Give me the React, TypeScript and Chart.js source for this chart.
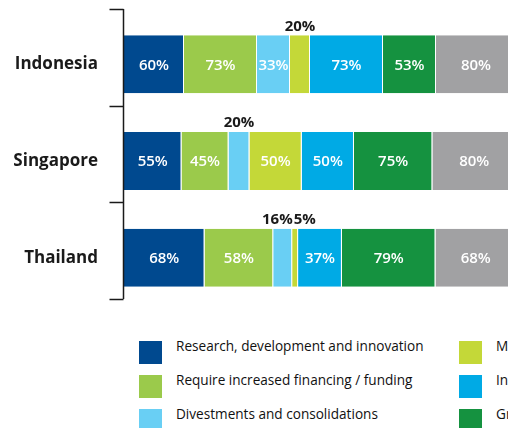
import React, { useEffect, useRef } from "react";
import { Chart, registerables } from "chart.js";

Chart.register(...registerables);

const categories = ["Indonesia", "Singapore", "Thailand"];
const seriesNames = [
  "Research, development and innovation",
  "Require increased financing / funding",
  "Divestments and consolidations",
  "Mergers and acquisitions",
  "International expansion",
  "Growth in new markets",
  "Other",
];
const research = [60, 55, 68];
const financing = [73, 45, 58];
const divestments = [33, 20, 16];
const mergers = [20, 50, 5];
const international = [73, 50, 37];
const growth = [53, 75, 79];
const other = [80, 80, 68];
const colors = ["#00498f", "#9bca4b", "#69cff4", "#c4d838", "#00aae5", "#159240", "#a1a1a3"];

const series = [research, financing, divestments, mergers, international, growth, other];

const totals = categories.map((_, i) => series.reduce((s, arr) => s + arr[i], 0));

const FONT = "'Open Sans', 'Noto Sans', sans-serif";

const bracketPlugin = {
  id: "bracket",
  afterDraw(chart: any) {
    const { ctx, chartArea } = chart;
    const n = categories.length;
    const band = (chartArea.bottom - chartArea.top) / n;
    const shift = -7;
    ctx.save();
    ctx.strokeStyle = "#1a1a1a";
    ctx.lineWidth = 1.5;
    const x = chartArea.left - 0.5;
    ctx.beginPath();
    ctx.moveTo(x, chartArea.top + shift);
    ctx.lineTo(x, chartArea.bottom + shift);
    for (let i = 0; i <= n; i++) {
      const yy = Math.round(chartArea.top + band * i + shift) + 0.5;
      ctx.moveTo(x - 14, yy);
      ctx.lineTo(x, yy);
    }
    ctx.stroke();
    ctx.font = `700 17px ${FONT}`;
    ctx.fillStyle = "#1a1a1a";
    ctx.textAlign = "right";
    ctx.textBaseline = "middle";
    const meta = chart.getDatasetMeta(0);
    categories.forEach((c, i) => {
      const el = meta.data[i];
      if (el) ctx.fillText(c, chartArea.left - 26, el.y);
    });
    ctx.restore();
  },
};

const labelPlugin = {
  id: "segLabels",
  afterDatasetsDraw(chart: any) {
    const { ctx } = chart;
    ctx.save();
    ctx.textBaseline = "middle";
    ctx.textAlign = "center";
    categories.forEach((_, ci) => {
      const outside: { x: number; w: number; y: number; text: string }[] = [];
      chart.data.datasets.forEach((ds: any, di: number) => {
        const meta = chart.getDatasetMeta(di);
        const el = meta.data[ci];
        if (!el) return;
        const raw = series[di][ci];
        const text = raw + "%";
        const left = Math.min(el.x, el.base);
        const right = Math.max(el.x, el.base);
        const w = right - left;
        const cx = (left + right) / 2;
        if (w >= 28) {
          ctx.font = `600 15px ${FONT}`;
          ctx.fillStyle = "#ffffff";
          ctx.fillText(text, cx, el.y + 1);
        } else {
          ctx.font = `700 15px ${FONT}`;
          const tw = ctx.measureText(text).width;
          outside.push({ x: cx, w: tw, y: el.y - el.height / 2 - 9, text });
        }
      });
      for (let k = 1; k < outside.length; k++) {
        const a = outside[k - 1];
        const b = outside[k];
        const overlap = a.x + a.w / 2 + 1 - (b.x - b.w / 2);
        if (overlap > 0) {
          const mid = (a.x + b.x) / 2;
          const total = a.w + b.w + 1;
          const start = mid - total / 2;
          a.x = start + a.w / 2;
          b.x = start + a.w + 1 + b.w / 2;
        }
      }
      ctx.font = `700 15px ${FONT}`;
      ctx.fillStyle = "#1a1a1a";
      outside.forEach((o) => ctx.fillText(o.text, o.x, o.y));
    });
    ctx.restore();
  },
};

export default function App() {
  const ref = useRef<HTMLCanvasElement>(null);
  useEffect(() => {
    if (!ref.current) return;
    const datasets = series.map((arr, i) => ({
      label: seriesNames[i],
      data: arr.map((v, ci) => (v / totals[ci]) * 100),
      backgroundColor: colors[i],
      borderColor: "#ffffff",
      borderWidth: { left: 0, right: 1, top: 0, bottom: 0 },
      borderSkipped: false,
      barPercentage: 0.6,
      categoryPercentage: 1,
    }));
    const chart = new Chart(ref.current, {
      type: "bar",
      data: { labels: categories, datasets },
      options: {
        indexAxis: "y",
        animation: false,
        responsive: false,
        maintainAspectRatio: false,
        layout: { padding: { top: 16, bottom: 14, right: 14, left: 124 } },
        plugins: { legend: { display: false }, tooltip: { enabled: false } },
        scales: {
          x: { stacked: true, display: false, min: 0, max: 100 },
          y: { stacked: true, display: false },
        },
      },
      plugins: [bracketPlugin, labelPlugin],
    });
    return () => chart.destroy();
  }, []);

  const legendCols = [0, 1, 2].map((c) => seriesNames.map((n, i) => ({ n, i })).slice(c * 3, c * 3 + 3));

  return (
    <div
      style={{
        position: "fixed",
        left: 0,
        top: 0,
        width: 508,
        height: 428,
        overflow: "hidden",
        background: "#fff",
      }}
    >
      <canvas ref={ref} width={530} height={320} style={{ position: "absolute", left: 0, top: 0, width: 530, height: 320 }} />
      {legendCols.map((col, c) =>
        col.map((item, r) => (
          <div
            key={item.i}
            style={{
              position: "absolute",
              left: 139 + c * 320,
              top: 341 + r * 34,
              display: "flex",
              alignItems: "flex-start",
              whiteSpace: "nowrap",
            }}
          >
            <div style={{ width: 23, height: 23, background: colors[item.i], flex: "none" }} />
            <div
              style={{
                marginLeft: 14,
                marginTop: -2,
                fontFamily: FONT,
                fontSize: 13.6,
                lineHeight: "14px",
                color: "#111",
              }}
            >
              {item.n}
            </div>
          </div>
        ))
      )}
    </div>
  );
}
